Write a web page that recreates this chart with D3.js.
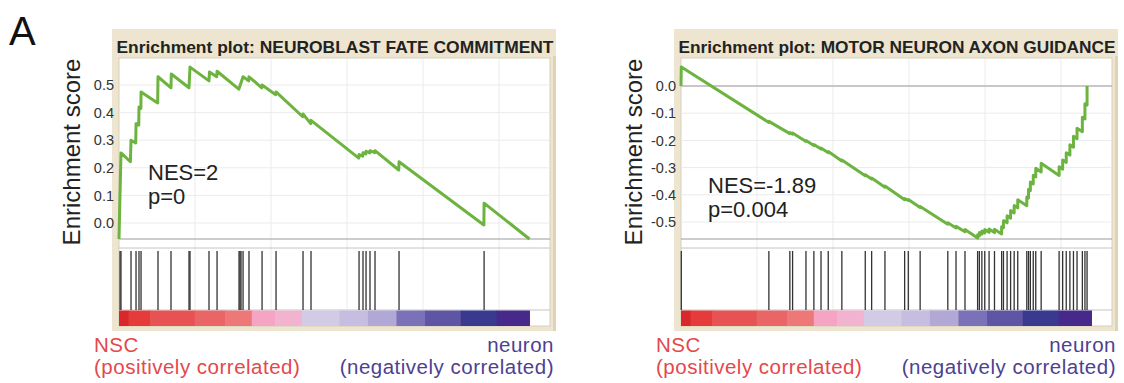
<!DOCTYPE html>
<html>
<head>
<meta charset="utf-8">
<script src="https://cdn.jsdelivr.net/npm/d3@7"></script>
<style>
  body { margin: 0; background: #fff; }
  svg { display: block; font-family: "Liberation Sans", Arial, sans-serif; }
</style>
</head>
<body>
<svg id="chart" width="1124" height="383"></svg>
<script>
// ---- data ----
const rankLength = 27000;
const rankTicks = [5000, 10000, 15000, 20000, 25000];

const leftTitle = "Enrichment plot: NEUROBLAST FATE COMMITMENT";
const rightTitle = "Enrichment plot: MOTOR NEURON AXON GUIDANCE";

const leftTicks = [0.0, 0.1, 0.2, 0.3, 0.4, 0.5];
const rightTicks = [0.0, -0.1, -0.2, -0.3, -0.4, -0.5];

const leftStats = ["NES=2", "p=0"];
const rightStats = ["NES=-1.89", "p=0.004"];

// gene hit ranks (barcode)
const leftHits = [66, 130, 790, 1120, 1315, 1450, 2565, 3420, 4605, 4670, 5920, 6450,
  7895, 7960, 8025, 8160, 8550, 9410, 10330, 12105, 12630, 15790, 16050, 16250,
  16510, 16840, 18420, 24015];
const rightHits = [20, 5780, 7160, 7340, 8220, 8740, 9210, 9685, 10580, 12120, 12540,
  13415, 14710, 14950, 15730, 17550, 18090, 18680, 19510, 19625, 19790, 19980, 20265,
  20620, 21090, 21210, 21450, 21680, 21915, 22150, 22745, 22860, 22980, 23170, 23335,
  23690, 24870, 25105, 25340, 25580, 25815, 26050, 26400, 26570, 26710];

// running enrichment score [rank, ES]
const leftCurve = [[0, -0.058], [130, 0.254], [750, 0.222], [790, 0.30], [1100, 0.29],
  [1120, 0.36], [1300, 0.355], [1315, 0.42], [1440, 0.415], [1450, 0.475],
  [2545, 0.435], [2565, 0.53], [3420, 0.49], [3440, 0.54], [4605, 0.49], [4670, 0.565],
  [5920, 0.515], [5950, 0.547], [6430, 0.53], [6450, 0.55], [7880, 0.485], [8160, 0.53],
  [8530, 0.515], [8550, 0.53], [9390, 0.49], [9410, 0.5], [10310, 0.465], [10330, 0.475],
  [12085, 0.385], [12105, 0.395], [12610, 0.36], [12630, 0.372], [15770, 0.235],
  [15790, 0.248], [16030, 0.242], [16050, 0.255], [16230, 0.25], [16250, 0.26],
  [16490, 0.254], [16510, 0.262], [16820, 0.255], [16840, 0.262], [18400, 0.192],
  [18420, 0.222], [24000, -0.007], [24015, 0.072], [27000, -0.058]];

const rightCurve = [[0, 0], [20, 0.07],
  [5780, -0.134], [5780, -0.130], [7160, -0.175], [7160, -0.171], [7340, -0.177], [7340, -0.173],
  [8220, -0.204], [8220, -0.200], [8740, -0.219], [8740, -0.215], [9210, -0.232], [9210, -0.228],
  [9685, -0.245], [9685, -0.241], [10580, -0.276], [10580, -0.272], [12120, -0.330], [12120, -0.326],
  [12540, -0.342], [12540, -0.338], [13415, -0.372], [13415, -0.368], [14710, -0.418], [14710, -0.414],
  [14950, -0.421], [14950, -0.417], [15730, -0.447], [15730, -0.443], [17550, -0.508], [17550, -0.503],
  [18090, -0.522], [18090, -0.516], [18680, -0.536], [18680, -0.528], [19510, -0.559], [19510, -0.547],
  [19625, -0.551], [19625, -0.539], [19790, -0.545], [19790, -0.533], [19980, -0.540], [19980, -0.528],
  [20265, -0.538], [20265, -0.526], [20620, -0.539], [20620, -0.527], [21090, -0.544], [21090, -0.517],
  [21210, -0.521], [21210, -0.495], [21450, -0.503], [21450, -0.477], [21680, -0.486], [21680, -0.458],
  [21915, -0.467], [21915, -0.439], [22150, -0.448], [22150, -0.418], [22745, -0.440], [22745, -0.408],
  [22860, -0.412], [22860, -0.380], [22980, -0.385], [22980, -0.353], [23170, -0.360], [23170, -0.328],
  [23335, -0.334], [23335, -0.302], [23690, -0.316], [23690, -0.284], [24870, -0.329], [24870, -0.297],
  [25105, -0.306], [25105, -0.272], [25340, -0.281], [25340, -0.245], [25580, -0.254], [25580, -0.216],
  [25815, -0.225], [25815, -0.185], [26050, -0.194], [26050, -0.155], [26400, -0.168], [26400, -0.115],
  [26570, -0.121], [26570, -0.065], [26710, -0.070], [26710, 0.0]];

// ranked list metric colour bar (band end rank, colour)
const bandEnds = [630, 2040, 4975, 6975, 8735, 10265, 12025, 14495, 16375, 18250, 20130, 22480, 24830, 27000];
const bandColors = ["#d8282b", "#e63b3b", "#e75252", "#ea6565", "#ee7878", "#f5a4c4", "#f2b3d1",
  "#d3cae5", "#c6bde0", "#b1a8d5", "#7b71b9", "#5e55a4", "#393a8f", "#46298b"];

const posLabel = ["NSC", "(positively correlated)"];
const negLabel = ["neuron", "(negatively correlated)"];

// ---- layout ----
const svg = d3.select("#chart");
const plot = { left: 119, right: 550, top: 58, esBottom: 239, barTop: 248, bandTop: 310, bandBottom: 326 };

svg.append("text")
  .attr("x", 9).attr("y", 45)
  .style("font-size", "40px").attr("fill", "#111")
  .text("A");

function drawPanel(offsetX, cfg) {
  const g = svg.append("g").attr("transform", `translate(${offsetX},0)`);

  const x = d3.scaleLinear().domain([0, 28350]).range([plot.left, plot.right]);
  const y = d3.scaleLinear().domain(cfg.yDomain).range([plot.esBottom, plot.top]);

  // beige frame + title
  g.append("rect")
    .attr("x", 112).attr("y", 29).attr("width", 444).attr("height", 302)
    .attr("fill", "#ede5cf");
  g.append("rect")
    .attr("x", 553).attr("y", 56).attr("width", 3).attr("height", 275)
    .attr("fill", "#ddd3b6");

  g.append("text")
    .attr("x", 335).attr("y", 52.5)
    .attr("text-anchor", "middle")
    .attr("textLength", 437).attr("lengthAdjust", "spacingAndGlyphs")
    .style("font-family", "'Liberation Sans Narrow', 'Liberation Sans', Arial, sans-serif")
    .style("font-weight", "bold").style("font-size", "17px")
    .attr("fill", "#222")
    .text(cfg.title);

  // white inner area
  g.append("rect")
    .attr("x", plot.left).attr("y", plot.top)
    .attr("width", plot.right - plot.left).attr("height", plot.bandBottom - plot.top)
    .attr("fill", "#fff").attr("stroke", "#d6cfbb");

  // grid
  g.append("g").selectAll("line")
    .data(rankTicks)
    .enter().append("line")
      .attr("x1", d => x(d)).attr("x2", d => x(d))
      .attr("y1", plot.top).attr("y2", plot.bandTop)
      .attr("stroke", "#ebebeb");
  g.append("g").selectAll("line")
    .data(cfg.ticks)
    .enter().append("line")
      .attr("x1", plot.left).attr("x2", plot.right)
      .attr("y1", d => y(d)).attr("y2", d => y(d))
      .attr("stroke", "#ebebeb");

  // frame lines
  g.append("line")
    .attr("x1", plot.left).attr("x2", plot.right)
    .attr("y1", plot.esBottom).attr("y2", plot.esBottom)
    .attr("stroke", "#9a9a9a");
  if (cfg.zeroLine) {
    g.append("line")
      .attr("x1", plot.left).attr("x2", plot.right)
      .attr("y1", y(0)).attr("y2", y(0))
      .attr("stroke", "#9a9a9a");
  }
  g.append("line")
    .attr("x1", plot.left).attr("x2", plot.right)
    .attr("y1", plot.barTop).attr("y2", plot.barTop)
    .attr("stroke", "#c4c4c4");
  g.append("line")
    .attr("x1", plot.left).attr("x2", plot.right)
    .attr("y1", plot.bandTop).attr("y2", plot.bandTop)
    .attr("stroke", "#c4c4c4");

  // barcode
  g.append("g").selectAll("line")
    .data(cfg.hits)
    .enter().append("line")
      .attr("x1", d => x(d)).attr("x2", d => x(d))
      .attr("y1", plot.barTop + 3).attr("y2", plot.bandTop)
      .attr("stroke", "#333").attr("stroke-width", 1.3);

  // colour bar
  g.append("g").selectAll("rect")
    .data(bandEnds)
    .enter().append("rect")
      .attr("x", (d, i) => x(i ? bandEnds[i - 1] : 0))
      .attr("width", (d, i) => x(d) - x(i ? bandEnds[i - 1] : 0) + 0.5)
      .attr("y", plot.bandTop + 0.5)
      .attr("height", plot.bandBottom - plot.bandTop - 0.5)
      .attr("fill", (d, i) => bandColors[i]);

  // running ES
  const line = d3.line().x(d => x(d[0])).y(d => y(d[1]));
  g.append("path")
    .datum(cfg.curve)
    .attr("d", line)
    .attr("fill", "none")
    .attr("stroke", "#6cb33f")
    .attr("stroke-width", 3)
    .attr("stroke-linejoin", "round");

  // y axis
  const yAxis = d3.axisLeft(y)
    .tickValues(cfg.ticks)
    .tickSize(0).tickPadding(0)
    .tickFormat(d => d.toFixed(1));
  const ax = g.append("g")
    .attr("transform", `translate(${plot.left - 5},0)`)
    .call(yAxis);
  ax.select(".domain").remove();
  ax.selectAll("text")
    .style("font-family", "'Liberation Sans', Arial, sans-serif")
    .style("font-size", "14.5px").attr("fill", "#333");

  g.append("text")
    .attr("transform", "translate(80,152) rotate(-90)")
    .attr("text-anchor", "middle")
    .style("font-size", "24px").attr("fill", "#222")
    .text("Enrichment score");

  // NES / p
  g.append("g").selectAll("text")
    .data(cfg.stats)
    .enter().append("text")
      .attr("x", cfg.statX)
      .attr("y", (d, i) => cfg.statY + i * 24)
      .style("font-size", "22px").attr("fill", "#222")
      .text(d => d);

  // phenotype labels
  g.append("g").selectAll("text")
    .data(posLabel)
    .enter().append("text")
      .attr("x", 94)
      .attr("y", (d, i) => 352 + i * 22)
      .style("font-size", "20.5px").style("letter-spacing", "0.5px")
      .attr("fill", "#e4484c")
      .text(d => d);
  g.append("g").selectAll("text")
    .data(negLabel)
    .enter().append("text")
      .attr("x", 554)
      .attr("y", (d, i) => 352 + i * 22)
      .attr("text-anchor", "end")
      .style("font-size", "20.5px").style("letter-spacing", "0.5px")
      .attr("fill", "#4d3f92")
      .text(d => d);
}

drawPanel(0, {
  title: leftTitle, yDomain: [-0.058, 0.598], ticks: leftTicks,
  hits: leftHits, curve: leftCurve, stats: leftStats,
  statX: 148, statY: 180, zeroLine: false
});

drawPanel(562, {
  title: rightTitle, yDomain: [-0.5625, 0.103], ticks: rightTicks,
  hits: rightHits, curve: rightCurve, stats: rightStats,
  statX: 146, statY: 193, zeroLine: true
});
</script>
</body>
</html>
